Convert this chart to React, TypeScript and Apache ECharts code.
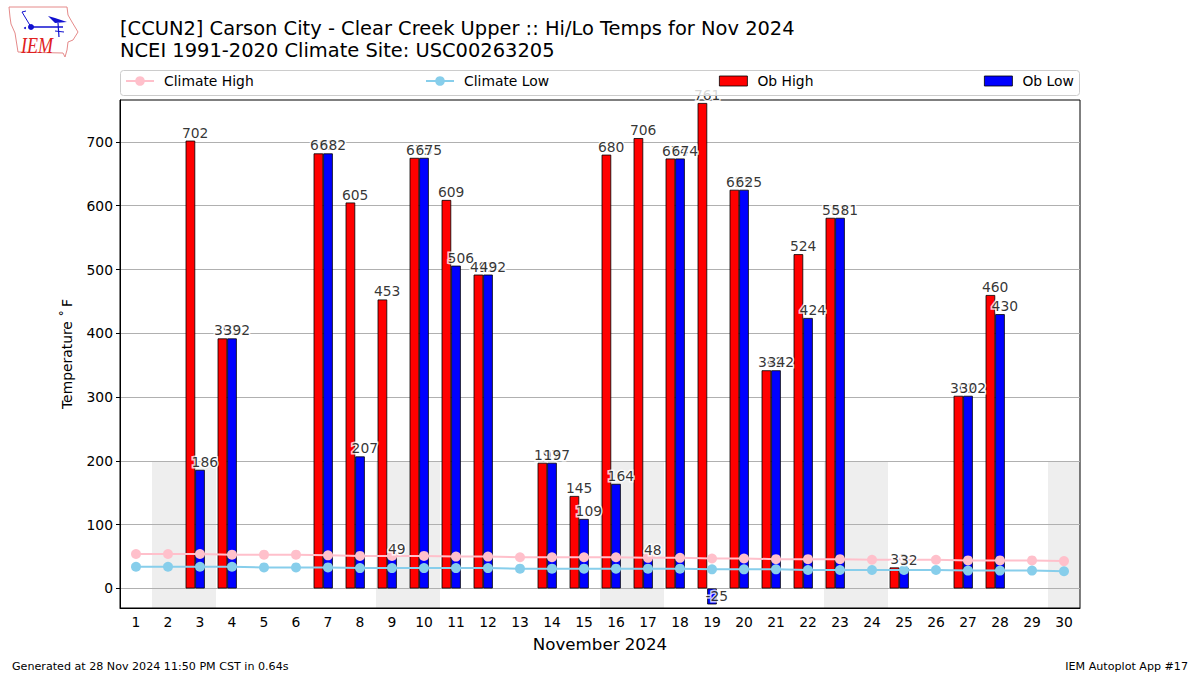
import React, { useEffect, useRef } from "react";
import * as echarts from "echarts";

const days = Array.from({ length: 30 }, (_, i) => String(i + 1));
const obHigh = [null, null, 702, 392, null, null, 682, 605, 453, 675, 609, 492, null, 197, 145, 680, 706, 674, 761, 625, 342, 524, 581, null, 33, null, 302, 460, null, null];
const obLow = [null, null, 186, 392, null, null, 682, 207, 49, 675, 506, 492, null, 197, 109, 164, 48, 674, -25, 625, 342, 424, 581, null, 32, null, 302, 430, null, null];
const climateHigh = [54, 54, 54, 53, 53, 53, 52, 51, 51, 51, 50, 50, 49, 49, 49, 49, 48, 48, 47, 47, 46, 46, 46, 45, 45, 45, 44, 44, 44, 43];
const climateLow = [34, 34, 34, 34, 33, 33, 33, 32, 32, 32, 32, 32, 31, 31, 31, 31, 31, 31, 30, 30, 30, 29, 29, 29, 29, 29, 28, 28, 28, 27];
const weekendDays = ["2", "3", "9", "10", "16", "17", "23", "24", "30"];
const weekendTop = 200;
const yTicks = [0, 100, 200, 300, 400, 500, 600, 700];
const yMin = -30.6;
const yMax = 765.7;

const FONT = "DejaVu Sans";
const iowa = "M9 7 L67 7 L68 15 L72 22 L78 32 L73 40 L68 42 L67 50 L65 57 L63 53 L18 52 L15 33 L11 24 L10 17 Z";
const bird = "M48 16 L55 18 L67 22 L55 23 L52 20 Z";

echarts.graphic.registerShape("iowaOutline", echarts.graphic.extendPath(iowa, {}) as any);
echarts.graphic.registerShape("logoBird", echarts.graphic.extendPath(bird, {}) as any);

const labelSeries = (name: string, values: (number | null)[], shift: number) => ({
  name,
  type: "scatter",
  symbolSize: 0,
  silent: true,
  clip: false,
  z: 6,
  data: values,
  label: {
    show: true,
    position: "top",
    distance: 1,
    offset: [shift, 0],
    fontFamily: FONT,
    fontSize: 13.89,
    color: "#000",
    textBorderColor: "#fff",
    textBorderWidth: 3,
    formatter: (p: any) => String(p.value),
  },
});

const legendEntry = (name: string, left: number, isBar: boolean) => ({
  data: isBar
    ? [{ name, icon: "rect", itemStyle: { borderWidth: 0.8, borderColor: "#000" } }]
    : [name],
  left,
  top: 74,
  z: 101,
  itemWidth: 28,
  itemHeight: isBar ? 10 : 12,
  itemGap: 0,
  padding: 0,
  selectedMode: false,
  textStyle: { fontFamily: FONT, fontSize: 13.89, color: "#000", padding: [0, 0, 0, 5] },
});

export default function App() {
  const ref = useRef<HTMLDivElement>(null);
  useEffect(() => {
    const chart = echarts.init(ref.current!, null, { renderer: "svg" });
    chart.setOption({
      animation: false,
      backgroundColor: "#fff",
      textStyle: { fontFamily: FONT },
      title: [
        {
          text: "[CCUN2] Carson City - Clear Creek Upper :: Hi/Lo Temps for Nov 2024\nNCEI 1991-2020 Climate Site: USC00263205",
          left: 120,
          top: 17,
          padding: 0,
          textStyle: { fontFamily: FONT, fontSize: 19.44, fontWeight: "normal", color: "#000", lineHeight: 22 },
        },
      ],
      legend: [
        legendEntry("Climate High", 125, false),
        legendEntry("Climate Low", 425, false),
        legendEntry("Ob High", 719, true),
        legendEntry("Ob Low", 984, true),
      ],
      grid: { left: 120, right: 120, top: 100, bottom: 67, show: true, borderColor: "#000", borderWidth: 1, backgroundColor: "transparent" },
      xAxis: {
        type: "category",
        data: days,
        name: "November 2024",
        nameLocation: "middle",
        nameGap: 28,
        nameTextStyle: { fontFamily: FONT, fontSize: 16.67, color: "#000" },
        axisLine: { onZero: false, lineStyle: { color: "#000" } },
        axisTick: { alignWithLabel: true, length: 4, lineStyle: { color: "#000" } },
        axisLabel: { interval: 0, fontFamily: FONT, fontSize: 13.89, color: "#000", margin: 7 },
        splitLine: { show: false },
      },
      yAxis: {
        type: "value",
        min: yMin,
        max: yMax,
        name: "Temperature ˚\u2009F",
        nameLocation: "middle",
        nameGap: 46,
        nameTextStyle: { fontFamily: FONT, fontSize: 13.89, color: "#000" },
        axisLine: { show: true, lineStyle: { color: "#000" } },
        axisTick: { show: true, length: 4, customValues: yTicks, lineStyle: { color: "#000" } },
        axisLabel: {
          customValues: yTicks,
          fontFamily: FONT,
          fontSize: 13.89,
          color: "#000",
          margin: 7,
        },
        splitLine: { show: true, lineStyle: { color: "#b0b0b0", width: 1 } },
      },
      series: [
        {
          name: "Weekend",
          type: "custom",
          z: -1,
          silent: true,
          data: weekendDays.map((d) => [d, weekendTop]),
          encode: { x: 0, y: 1 },
          renderItem: (_: any, api: any) => {
            const p = api.coord([api.value(0), api.value(1)]);
            const band = api.size([1, 0])[0];
            const base = api.coord([api.value(0), yMin]);
            return {
              type: "rect",
              shape: { x: p[0] - band / 2, y: p[1], width: band, height: base[1] - p[1] },
              style: { fill: "#eeeeee" },
            };
          },
        },
        {
          name: "Ob High",
          type: "bar",
          barWidth: 9.6,
          barGap: 0,
          z: 2,
          data: obHigh,
          itemStyle: { color: "#ff0000", borderColor: "#000", borderWidth: 0.8 },
        },
        {
          name: "Ob Low",
          type: "bar",
          barWidth: 9.6,
          barGap: 0,
          z: 2,
          data: obLow,
          itemStyle: { color: "#0000ff", borderColor: "#000", borderWidth: 0.8 },
        },
        {
          name: "Spacer",
          type: "bar",
          barWidth: 9.6,
          barGap: 0,
          data: [],
        },
        {
          name: "Climate High",
          type: "line",
          z: 4,
          data: climateHigh,
          symbol: "circle",
          symbolSize: 10,
          showSymbol: true,
          lineStyle: { color: "#ffc0cb", width: 2 },
          itemStyle: { color: "#ffc0cb" },
        },
        {
          name: "Climate Low",
          type: "line",
          z: 4,
          data: climateLow,
          symbol: "circle",
          symbolSize: 10,
          showSymbol: true,
          lineStyle: { color: "#87ceeb", width: 2 },
          itemStyle: { color: "#87ceeb" },
        },
        labelSeries("High labels", obHigh, -4.8),
        labelSeries("Low labels", obLow, 4.8),
      ],
      graphic: [
        {
          type: "rect",
          z: 100,
          shape: { x: 120.5, y: 70.5, width: 959, height: 25, r: 3 },
          style: { fill: "rgba(255,255,255,0.8)", stroke: "#cccccc", lineWidth: 1 },
        },
        { type: "iowaOutline", z: 10, x: 0, y: 0, style: { fill: "none", stroke: "#e58a8a", lineWidth: 1 } },
        { type: "logoBird", z: 10, x: 0, y: 0, style: { fill: "#1010d0" } },
        { type: "line", z: 10, shape: { x1: 31, y1: 27, x2: 63, y2: 27 }, style: { stroke: "#1010d0", lineWidth: 1.5 } },
        { type: "line", z: 10, shape: { x1: 22, y1: 12, x2: 31, y2: 27 }, style: { stroke: "#1010d0", lineWidth: 1 } },
        { type: "line", z: 10, shape: { x1: 22, y1: 12, x2: 26, y2: 11 }, style: { stroke: "#1010d0", lineWidth: 1 } },
        { type: "line", z: 10, shape: { x1: 58, y1: 23, x2: 59, y2: 37 }, style: { stroke: "#1010d0", lineWidth: 1.2 } },
        { type: "line", z: 10, shape: { x1: 55, y1: 31, x2: 64, y2: 32 }, style: { stroke: "#1010d0", lineWidth: 1 } },
        { type: "circle", z: 10, shape: { cx: 31, cy: 27, r: 3 }, style: { fill: "#1010d0" } },
        { type: "circle", z: 10, shape: { cx: 25, cy: 28, r: 1 }, style: { fill: "#1010d0" } },
        {
          type: "text",
          z: 10,
          x: 21,
          y: 33,
          scaleX: 0.75,
          style: { text: "IEM", fontFamily: "Liberation Serif", fontStyle: "italic", fontSize: 24, fill: "#e02020" },
        },
        { type: "text", z: 10, x: 12, y: 661, style: { text: "Generated at 28 Nov 2024 11:50 PM CST in 0.64s", fontFamily: FONT, fontSize: 11.11, fill: "#000" } },
        { type: "text", z: 10, x: 1188, y: 661, style: { text: "IEM Autoplot App #17", fontFamily: FONT, fontSize: 11.11, fill: "#000", textAlign: "right" } },
      ],
    });
    return () => chart.dispose();
  }, []);
  return <div ref={ref} style={{ position: "absolute", left: 0, top: 0, width: 1200, height: 675 }} />;
}
